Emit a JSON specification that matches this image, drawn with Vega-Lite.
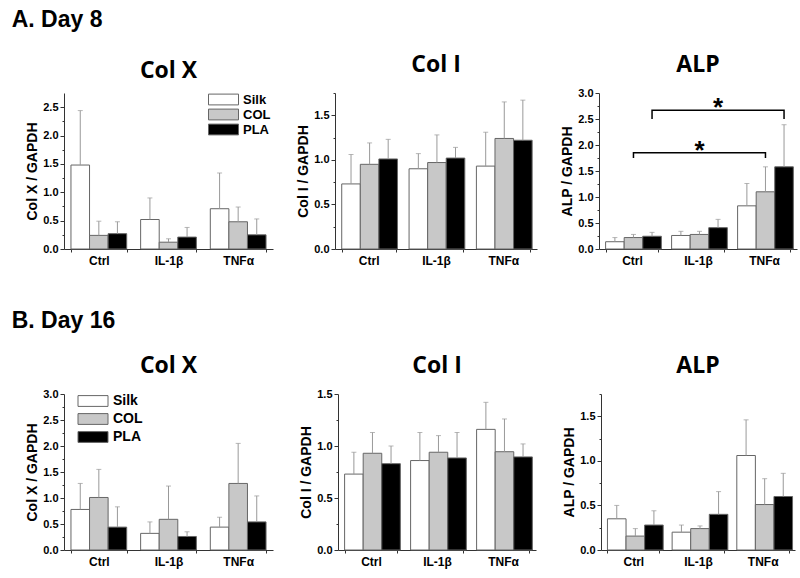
{
  "$schema": "https://vega.github.io/schema/vega-lite/v6.json",
  "padding": {"left": 11, "top": 9, "right": 2, "bottom": 2},
  "config": {
    "view": {"stroke": null},
    "font": "Liberation Sans",
    "axis": {"domainColor": "#333", "tickColor": "#333", "labelFontWeight": "bold", "titleFontWeight": "bold", "labelColor": "black", "titleColor": "black", "grid": false},
    "axisX": {"labelFontSize": 12, "tickSize": 3, "labelPadding": 3, "labelAngle": 0, "tickBand": "extent"},
    "axisY": {"labelFontSize": 11, "titleFontSize": 14, "titlePadding": 3, "labelPadding": 2, "tickSize": 4, "labelOverlap": false},
    "title": {"font": "Open Sans", "fontSize": 23, "fontWeight": "bold", "color": "black", "offset": 10},
    "legend": {"labelFont": "Liberation Sans", "labelFontWeight": "bold", "labelColor": "black"}
  },
  "datasets": {
    "bars": [
      {"day": "Day 8", "gene": "Col X", "treatment": "Ctrl", "scaffold": "Silk", "mean": 1.48, "upper": 2.44},
      {"day": "Day 8", "gene": "Col X", "treatment": "Ctrl", "scaffold": "COL", "mean": 0.24, "upper": 0.49},
      {"day": "Day 8", "gene": "Col X", "treatment": "Ctrl", "scaffold": "PLA", "mean": 0.27, "upper": 0.48},
      {"day": "Day 8", "gene": "Col X", "treatment": "IL-1β", "scaffold": "Silk", "mean": 0.52, "upper": 0.90},
      {"day": "Day 8", "gene": "Col X", "treatment": "IL-1β", "scaffold": "COL", "mean": 0.12, "upper": 0.18},
      {"day": "Day 8", "gene": "Col X", "treatment": "IL-1β", "scaffold": "PLA", "mean": 0.21, "upper": 0.38},
      {"day": "Day 8", "gene": "Col X", "treatment": "TNFα", "scaffold": "Silk", "mean": 0.71, "upper": 1.34},
      {"day": "Day 8", "gene": "Col X", "treatment": "TNFα", "scaffold": "COL", "mean": 0.48, "upper": 0.74},
      {"day": "Day 8", "gene": "Col X", "treatment": "TNFα", "scaffold": "PLA", "mean": 0.25, "upper": 0.53},
      {"day": "Day 8", "gene": "Col I", "treatment": "Ctrl", "scaffold": "Silk", "mean": 0.73, "upper": 1.06},
      {"day": "Day 8", "gene": "Col I", "treatment": "Ctrl", "scaffold": "COL", "mean": 0.95, "upper": 1.19},
      {"day": "Day 8", "gene": "Col I", "treatment": "Ctrl", "scaffold": "PLA", "mean": 1.01, "upper": 1.23},
      {"day": "Day 8", "gene": "Col I", "treatment": "IL-1β", "scaffold": "Silk", "mean": 0.90, "upper": 1.07},
      {"day": "Day 8", "gene": "Col I", "treatment": "IL-1β", "scaffold": "COL", "mean": 0.97, "upper": 1.28},
      {"day": "Day 8", "gene": "Col I", "treatment": "IL-1β", "scaffold": "PLA", "mean": 1.02, "upper": 1.14},
      {"day": "Day 8", "gene": "Col I", "treatment": "TNFα", "scaffold": "Silk", "mean": 0.93, "upper": 1.31},
      {"day": "Day 8", "gene": "Col I", "treatment": "TNFα", "scaffold": "COL", "mean": 1.24, "upper": 1.65},
      {"day": "Day 8", "gene": "Col I", "treatment": "TNFα", "scaffold": "PLA", "mean": 1.22, "upper": 1.67},
      {"day": "Day 8", "gene": "ALP", "treatment": "Ctrl", "scaffold": "Silk", "mean": 0.14, "upper": 0.22},
      {"day": "Day 8", "gene": "ALP", "treatment": "Ctrl", "scaffold": "COL", "mean": 0.22, "upper": 0.28},
      {"day": "Day 8", "gene": "ALP", "treatment": "Ctrl", "scaffold": "PLA", "mean": 0.245, "upper": 0.32},
      {"day": "Day 8", "gene": "ALP", "treatment": "IL-1β", "scaffold": "Silk", "mean": 0.26, "upper": 0.34},
      {"day": "Day 8", "gene": "ALP", "treatment": "IL-1β", "scaffold": "COL", "mean": 0.28, "upper": 0.34},
      {"day": "Day 8", "gene": "ALP", "treatment": "IL-1β", "scaffold": "PLA", "mean": 0.41, "upper": 0.57},
      {"day": "Day 8", "gene": "ALP", "treatment": "TNFα", "scaffold": "Silk", "mean": 0.83, "upper": 1.26},
      {"day": "Day 8", "gene": "ALP", "treatment": "TNFα", "scaffold": "COL", "mean": 1.10, "upper": 1.58},
      {"day": "Day 8", "gene": "ALP", "treatment": "TNFα", "scaffold": "PLA", "mean": 1.58, "upper": 2.39},
      {"day": "Day 16", "gene": "Col X", "treatment": "Ctrl", "scaffold": "Silk", "mean": 0.78, "upper": 1.28},
      {"day": "Day 16", "gene": "Col X", "treatment": "Ctrl", "scaffold": "COL", "mean": 1.01, "upper": 1.55},
      {"day": "Day 16", "gene": "Col X", "treatment": "Ctrl", "scaffold": "PLA", "mean": 0.44, "upper": 0.83},
      {"day": "Day 16", "gene": "Col X", "treatment": "IL-1β", "scaffold": "Silk", "mean": 0.32, "upper": 0.54},
      {"day": "Day 16", "gene": "Col X", "treatment": "IL-1β", "scaffold": "COL", "mean": 0.59, "upper": 1.23},
      {"day": "Day 16", "gene": "Col X", "treatment": "IL-1β", "scaffold": "PLA", "mean": 0.26, "upper": 0.35},
      {"day": "Day 16", "gene": "Col X", "treatment": "TNFα", "scaffold": "Silk", "mean": 0.44, "upper": 0.63},
      {"day": "Day 16", "gene": "Col X", "treatment": "TNFα", "scaffold": "COL", "mean": 1.28, "upper": 2.05},
      {"day": "Day 16", "gene": "Col X", "treatment": "TNFα", "scaffold": "PLA", "mean": 0.54, "upper": 1.04},
      {"day": "Day 16", "gene": "Col I", "treatment": "Ctrl", "scaffold": "Silk", "mean": 0.73, "upper": 0.94},
      {"day": "Day 16", "gene": "Col I", "treatment": "Ctrl", "scaffold": "COL", "mean": 0.93, "upper": 1.13},
      {"day": "Day 16", "gene": "Col I", "treatment": "Ctrl", "scaffold": "PLA", "mean": 0.83, "upper": 1.00},
      {"day": "Day 16", "gene": "Col I", "treatment": "IL-1β", "scaffold": "Silk", "mean": 0.86, "upper": 1.13},
      {"day": "Day 16", "gene": "Col I", "treatment": "IL-1β", "scaffold": "COL", "mean": 0.94, "upper": 1.10},
      {"day": "Day 16", "gene": "Col I", "treatment": "IL-1β", "scaffold": "PLA", "mean": 0.885, "upper": 1.13},
      {"day": "Day 16", "gene": "Col I", "treatment": "TNFα", "scaffold": "Silk", "mean": 1.16, "upper": 1.42},
      {"day": "Day 16", "gene": "Col I", "treatment": "TNFα", "scaffold": "COL", "mean": 0.945, "upper": 1.26},
      {"day": "Day 16", "gene": "Col I", "treatment": "TNFα", "scaffold": "PLA", "mean": 0.895, "upper": 1.02},
      {"day": "Day 16", "gene": "ALP", "treatment": "Ctrl", "scaffold": "Silk", "mean": 0.35, "upper": 0.50},
      {"day": "Day 16", "gene": "ALP", "treatment": "Ctrl", "scaffold": "COL", "mean": 0.156, "upper": 0.24},
      {"day": "Day 16", "gene": "ALP", "treatment": "Ctrl", "scaffold": "PLA", "mean": 0.28, "upper": 0.44},
      {"day": "Day 16", "gene": "ALP", "treatment": "IL-1β", "scaffold": "Silk", "mean": 0.20, "upper": 0.28},
      {"day": "Day 16", "gene": "ALP", "treatment": "IL-1β", "scaffold": "COL", "mean": 0.24, "upper": 0.27},
      {"day": "Day 16", "gene": "ALP", "treatment": "IL-1β", "scaffold": "PLA", "mean": 0.40, "upper": 0.655},
      {"day": "Day 16", "gene": "ALP", "treatment": "TNFα", "scaffold": "Silk", "mean": 1.06, "upper": 1.46},
      {"day": "Day 16", "gene": "ALP", "treatment": "TNFα", "scaffold": "COL", "mean": 0.51, "upper": 0.80},
      {"day": "Day 16", "gene": "ALP", "treatment": "TNFα", "scaffold": "PLA", "mean": 0.60, "upper": 0.86}
    ],
    "brackets": [
      {"id": "b1", "o": 1, "treatment": "Ctrl", "scaffold": "COL", "y": 1.75},
      {"id": "b1", "o": 2, "treatment": "Ctrl", "scaffold": "COL", "y": 1.85},
      {"id": "b1", "o": 3, "treatment": "TNFα", "scaffold": "COL", "y": 1.85},
      {"id": "b1", "o": 4, "treatment": "TNFα", "scaffold": "COL", "y": 1.75},
      {"id": "b2", "o": 1, "treatment": "Ctrl", "scaffold": "PLA", "y": 2.50},
      {"id": "b2", "o": 2, "treatment": "Ctrl", "scaffold": "PLA", "y": 2.67},
      {"id": "b2", "o": 3, "treatment": "TNFα", "scaffold": "PLA", "y": 2.67},
      {"id": "b2", "o": 4, "treatment": "TNFα", "scaffold": "PLA", "y": 2.50}
    ],
    "stars": [
      {"treatment": "IL-1β", "scaffold": "COL", "y": 1.73, "label": "*"},
      {"treatment": "IL-1β", "scaffold": "PLA", "y": 2.56, "label": "*"}
    ]
  },
  "spacing": 44,
  "resolve": {"legend": {"fill": "independent"}, "scale": {"fill": "independent"}},
  "vconcat": [
    {
      "title": {"text": "A. Day 8", "font": "Liberation Sans", "fontSize": 23, "anchor": "start", "dx": -14, "offset": 22},
      "spacing": 23,
      "resolve": {"legend": {"fill": "independent"}, "scale": {"x": "independent", "y": "independent"}},
      "hconcat": [
        {
          "width": 209, "height": 156,
          "title": "Col X",
          "data": {"name": "bars"},
          "transform": [{"filter": "datum.day == 'Day 8' && datum.gene == 'Col X'"}],
          "encoding": {
            "x": {"field": "treatment", "type": "nominal", "scale": {"domain": ["Ctrl", "IL-1β", "TNFα"], "paddingInner": 0.2, "paddingOuter": 0.1}, "axis": {"title": null}},
            "xOffset": {"field": "scaffold", "type": "nominal", "scale": {"domain": ["Silk", "COL", "PLA"], "paddingInner": 0, "paddingOuter": 0}}
          },
          "layer": [
            {"mark": {"type": "bar", "stroke": "#666", "strokeWidth": 1},
             "encoding": {
               "y": {"field": "mean", "type": "quantitative", "title": "Col X / GAPDH", "scale": {"domain": [0, 2.75]}, "axis": {"labelOverlap": false, "values": [0, 0.25, 0.5, 0.75, 1, 1.25, 1.5, 1.75, 2, 2.25, 2.5], "labelExpr": "(datum.value * 100) % 50 == 0 ? format(datum.value, '.1f') : ''", "tickSize": {"condition": {"test": "(datum.value * 100) % 50 == 0", "value": 4}, "value": 2}}},
               "fill": {"field": "scaffold", "type": "nominal", "scale": {"domain": ["Silk", "COL", "PLA"], "range": ["#ffffff", "#c8c8c8", "#000000"]},
                        "legend": {"title": null, "orient": "none", "legendX": 153, "legendY": 0, "symbolType": "M-2.5,-0.9H2.5V0.9H-2.5Z", "symbolSize": 144, "symbolStrokeColor": "#666", "symbolStrokeWidth": 1, "labelFontSize": 13, "rowPadding": 0, "labelOffset": 13, "padding": 0}}
             }},
            {"mark": {"type": "rule", "color": "#999", "strokeWidth": 1},
             "encoding": {"y": {"field": "mean", "type": "quantitative", "title": "Col X / GAPDH", "scale": {"domain": [0, 2.75]}, "axis": {"labelOverlap": false, "values": [0, 0.25, 0.5, 0.75, 1, 1.25, 1.5, 1.75, 2, 2.25, 2.5], "labelExpr": "(datum.value * 100) % 50 == 0 ? format(datum.value, '.1f') : ''", "tickSize": {"condition": {"test": "(datum.value * 100) % 50 == 0", "value": 4}, "value": 2}}}, "y2": {"field": "upper"}}},
            {"mark": {"type": "tick", "color": "#999", "thickness": 1, "size": 5},
             "encoding": {"y": {"field": "upper", "type": "quantitative", "title": "Col X / GAPDH", "scale": {"domain": [0, 2.75]}, "axis": {"labelOverlap": false, "values": [0, 0.25, 0.5, 0.75, 1, 1.25, 1.5, 1.75, 2, 2.25, 2.5], "labelExpr": "(datum.value * 100) % 50 == 0 ? format(datum.value, '.1f') : ''", "tickSize": {"condition": {"test": "(datum.value * 100) % 50 == 0", "value": 4}, "value": 2}}}}}
          ]
        },
        {
          "width": 202, "height": 156,
          "title": "Col I",
          "data": {"name": "bars"},
          "transform": [{"filter": "datum.day == 'Day 8' && datum.gene == 'Col I'"}],
          "encoding": {
            "x": {"field": "treatment", "type": "nominal", "scale": {"domain": ["Ctrl", "IL-1β", "TNFα"], "paddingInner": 0.2, "paddingOuter": 0.1}, "axis": {"title": null}},
            "xOffset": {"field": "scaffold", "type": "nominal", "scale": {"domain": ["Silk", "COL", "PLA"], "paddingInner": 0, "paddingOuter": 0}}
          },
          "layer": [
            {"mark": {"type": "bar", "stroke": "#666", "strokeWidth": 1},
             "encoding": {
               "y": {"field": "mean", "type": "quantitative", "title": "Col I / GAPDH", "scale": {"domain": [0, 1.75]}, "axis": {"labelOverlap": false, "values": [0, 0.25, 0.5, 0.75, 1, 1.25, 1.5, 1.75], "labelExpr": "(datum.value * 100) % 50 == 0 ? format(datum.value, '.1f') : ''", "tickSize": {"condition": {"test": "(datum.value * 100) % 50 == 0", "value": 4}, "value": 2}}},
               "fill": {"field": "scaffold", "type": "nominal", "scale": {"domain": ["Silk", "COL", "PLA"], "range": ["#ffffff", "#c8c8c8", "#000000"]}, "legend": null}
             }},
            {"mark": {"type": "rule", "color": "#999", "strokeWidth": 1},
             "encoding": {"y": {"field": "mean", "type": "quantitative", "title": "Col I / GAPDH", "scale": {"domain": [0, 1.75]}, "axis": {"labelOverlap": false, "values": [0, 0.25, 0.5, 0.75, 1, 1.25, 1.5, 1.75], "labelExpr": "(datum.value * 100) % 50 == 0 ? format(datum.value, '.1f') : ''", "tickSize": {"condition": {"test": "(datum.value * 100) % 50 == 0", "value": 4}, "value": 2}}}, "y2": {"field": "upper"}}},
            {"mark": {"type": "tick", "color": "#999", "thickness": 1, "size": 5},
             "encoding": {"y": {"field": "upper", "type": "quantitative", "title": "Col I / GAPDH", "scale": {"domain": [0, 1.75]}, "axis": {"labelOverlap": false, "values": [0, 0.25, 0.5, 0.75, 1, 1.25, 1.5, 1.75], "labelExpr": "(datum.value * 100) % 50 == 0 ? format(datum.value, '.1f') : ''", "tickSize": {"condition": {"test": "(datum.value * 100) % 50 == 0", "value": 4}, "value": 2}}}}}
          ]
        },
        {
          "width": 198, "height": 156,
          "title": "ALP",
          "data": {"name": "bars"},
          "transform": [{"filter": "datum.day == 'Day 8' && datum.gene == 'ALP'"}],
          "encoding": {
            "x": {"field": "treatment", "type": "nominal", "scale": {"domain": ["Ctrl", "IL-1β", "TNFα"], "paddingInner": 0.2, "paddingOuter": 0.1}, "axis": {"title": null}},
            "xOffset": {"field": "scaffold", "type": "nominal", "scale": {"domain": ["Silk", "COL", "PLA"], "paddingInner": 0, "paddingOuter": 0}}
          },
          "layer": [
            {"mark": {"type": "bar", "stroke": "#666", "strokeWidth": 1},
             "encoding": {
               "y": {"field": "mean", "type": "quantitative", "title": "ALP / GAPDH", "scale": {"domain": [0, 3]}, "axis": {"labelOverlap": false, "values": [0, 0.25, 0.5, 0.75, 1, 1.25, 1.5, 1.75, 2, 2.25, 2.5, 2.75, 3], "labelExpr": "(datum.value * 100) % 50 == 0 ? format(datum.value, '.1f') : ''", "tickSize": {"condition": {"test": "(datum.value * 100) % 50 == 0", "value": 4}, "value": 2}}},
               "fill": {"field": "scaffold", "type": "nominal", "scale": {"domain": ["Silk", "COL", "PLA"], "range": ["#ffffff", "#c8c8c8", "#000000"]}, "legend": null}
             }},
            {"mark": {"type": "rule", "color": "#999", "strokeWidth": 1},
             "encoding": {"y": {"field": "mean", "type": "quantitative", "title": "ALP / GAPDH", "scale": {"domain": [0, 3]}, "axis": {"labelOverlap": false, "values": [0, 0.25, 0.5, 0.75, 1, 1.25, 1.5, 1.75, 2, 2.25, 2.5, 2.75, 3], "labelExpr": "(datum.value * 100) % 50 == 0 ? format(datum.value, '.1f') : ''", "tickSize": {"condition": {"test": "(datum.value * 100) % 50 == 0", "value": 4}, "value": 2}}}, "y2": {"field": "upper"}}},
            {"mark": {"type": "tick", "color": "#999", "thickness": 1, "size": 5},
             "encoding": {"y": {"field": "upper", "type": "quantitative", "title": "ALP / GAPDH", "scale": {"domain": [0, 3]}, "axis": {"labelOverlap": false, "values": [0, 0.25, 0.5, 0.75, 1, 1.25, 1.5, 1.75, 2, 2.25, 2.5, 2.75, 3], "labelExpr": "(datum.value * 100) % 50 == 0 ? format(datum.value, '.1f') : ''", "tickSize": {"condition": {"test": "(datum.value * 100) % 50 == 0", "value": 4}, "value": 2}}}}},
            {"data": {"name": "brackets"},
             "mark": {"type": "line", "color": "black", "strokeWidth": 1.5},
             "encoding": {"y": {"field": "y", "type": "quantitative", "title": "ALP / GAPDH", "scale": {"domain": [0, 3]}, "axis": {"labelOverlap": false, "values": [0, 0.25, 0.5, 0.75, 1, 1.25, 1.5, 1.75, 2, 2.25, 2.5, 2.75, 3], "labelExpr": "(datum.value * 100) % 50 == 0 ? format(datum.value, '.1f') : ''", "tickSize": {"condition": {"test": "(datum.value * 100) % 50 == 0", "value": 4}, "value": 2}}}, "detail": {"field": "id"}, "order": {"field": "o"}}},
            {"data": {"name": "stars"},
             "mark": {"type": "text", "fontSize": 26, "fontWeight": "bold", "baseline": "alphabetic", "font": "Liberation Sans"},
             "encoding": {"y": {"field": "y", "type": "quantitative", "title": "ALP / GAPDH", "scale": {"domain": [0, 3]}, "axis": {"labelOverlap": false, "values": [0, 0.25, 0.5, 0.75, 1, 1.25, 1.5, 1.75, 2, 2.25, 2.5, 2.75, 3], "labelExpr": "(datum.value * 100) % 50 == 0 ? format(datum.value, '.1f') : ''", "tickSize": {"condition": {"test": "(datum.value * 100) % 50 == 0", "value": 4}, "value": 2}}}, "text": {"field": "label"}}}
          ]
        }
      ]
    },
    {
      "title": {"text": "B. Day 16", "font": "Liberation Sans", "fontSize": 23, "anchor": "start", "dx": -14, "offset": 22},
      "spacing": 26,
      "resolve": {"legend": {"fill": "independent"}, "scale": {"x": "independent", "y": "independent"}},
      "hconcat": [
        {
          "width": 209, "height": 156,
          "title": "Col X",
          "data": {"name": "bars"},
          "transform": [{"filter": "datum.day == 'Day 16' && datum.gene == 'Col X'"}],
          "encoding": {
            "x": {"field": "treatment", "type": "nominal", "scale": {"domain": ["Ctrl", "IL-1β", "TNFα"], "paddingInner": 0.2, "paddingOuter": 0.1}, "axis": {"title": null}},
            "xOffset": {"field": "scaffold", "type": "nominal", "scale": {"domain": ["Silk", "COL", "PLA"], "paddingInner": 0, "paddingOuter": 0}}
          },
          "layer": [
            {"mark": {"type": "bar", "stroke": "#666", "strokeWidth": 1},
             "encoding": {
               "y": {"field": "mean", "type": "quantitative", "title": "Col X / GAPDH", "scale": {"domain": [0, 3]}, "axis": {"labelOverlap": false, "values": [0, 0.25, 0.5, 0.75, 1, 1.25, 1.5, 1.75, 2, 2.25, 2.5, 2.75, 3], "labelExpr": "(datum.value * 100) % 50 == 0 ? format(datum.value, '.1f') : ''", "tickSize": {"condition": {"test": "(datum.value * 100) % 50 == 0", "value": 4}, "value": 2}}},
               "fill": {"field": "scaffold", "type": "nominal", "scale": {"domain": ["Silk", "COL", "PLA"], "range": ["#ffffff", "#c8c8c8", "#000000"]},
                        "legend": {"title": null, "orient": "none", "legendX": 22, "legendY": 0, "symbolType": "M-2.5,-0.9H2.5V0.9H-2.5Z", "symbolSize": 144, "symbolStrokeColor": "#666", "symbolStrokeWidth": 1, "labelFontSize": 14, "rowPadding": 2, "labelOffset": 13, "padding": 0}}
             }},
            {"mark": {"type": "rule", "color": "#999", "strokeWidth": 1},
             "encoding": {"y": {"field": "mean", "type": "quantitative", "title": "Col X / GAPDH", "scale": {"domain": [0, 3]}, "axis": {"labelOverlap": false, "values": [0, 0.25, 0.5, 0.75, 1, 1.25, 1.5, 1.75, 2, 2.25, 2.5, 2.75, 3], "labelExpr": "(datum.value * 100) % 50 == 0 ? format(datum.value, '.1f') : ''", "tickSize": {"condition": {"test": "(datum.value * 100) % 50 == 0", "value": 4}, "value": 2}}}, "y2": {"field": "upper"}}},
            {"mark": {"type": "tick", "color": "#999", "thickness": 1, "size": 5},
             "encoding": {"y": {"field": "upper", "type": "quantitative", "title": "Col X / GAPDH", "scale": {"domain": [0, 3]}, "axis": {"labelOverlap": false, "values": [0, 0.25, 0.5, 0.75, 1, 1.25, 1.5, 1.75, 2, 2.25, 2.5, 2.75, 3], "labelExpr": "(datum.value * 100) % 50 == 0 ? format(datum.value, '.1f') : ''", "tickSize": {"condition": {"test": "(datum.value * 100) % 50 == 0", "value": 4}, "value": 2}}}}}
          ]
        },
        {
          "width": 198, "height": 156,
          "title": "Col I",
          "data": {"name": "bars"},
          "transform": [{"filter": "datum.day == 'Day 16' && datum.gene == 'Col I'"}],
          "encoding": {
            "x": {"field": "treatment", "type": "nominal", "scale": {"domain": ["Ctrl", "IL-1β", "TNFα"], "paddingInner": 0.2, "paddingOuter": 0.1}, "axis": {"title": null}},
            "xOffset": {"field": "scaffold", "type": "nominal", "scale": {"domain": ["Silk", "COL", "PLA"], "paddingInner": 0, "paddingOuter": 0}}
          },
          "layer": [
            {"mark": {"type": "bar", "stroke": "#666", "strokeWidth": 1},
             "encoding": {
               "y": {"field": "mean", "type": "quantitative", "title": "Col I / GAPDH", "scale": {"domain": [0, 1.5]}, "axis": {"labelOverlap": false, "values": [0, 0.25, 0.5, 0.75, 1, 1.25, 1.5], "labelExpr": "(datum.value * 100) % 50 == 0 ? format(datum.value, '.1f') : ''", "tickSize": {"condition": {"test": "(datum.value * 100) % 50 == 0", "value": 4}, "value": 2}}},
               "fill": {"field": "scaffold", "type": "nominal", "scale": {"domain": ["Silk", "COL", "PLA"], "range": ["#ffffff", "#c8c8c8", "#000000"]}, "legend": null}
             }},
            {"mark": {"type": "rule", "color": "#999", "strokeWidth": 1},
             "encoding": {"y": {"field": "mean", "type": "quantitative", "title": "Col I / GAPDH", "scale": {"domain": [0, 1.5]}, "axis": {"labelOverlap": false, "values": [0, 0.25, 0.5, 0.75, 1, 1.25, 1.5], "labelExpr": "(datum.value * 100) % 50 == 0 ? format(datum.value, '.1f') : ''", "tickSize": {"condition": {"test": "(datum.value * 100) % 50 == 0", "value": 4}, "value": 2}}}, "y2": {"field": "upper"}}},
            {"mark": {"type": "tick", "color": "#999", "thickness": 1, "size": 5},
             "encoding": {"y": {"field": "upper", "type": "quantitative", "title": "Col I / GAPDH", "scale": {"domain": [0, 1.5]}, "axis": {"labelOverlap": false, "values": [0, 0.25, 0.5, 0.75, 1, 1.25, 1.5], "labelExpr": "(datum.value * 100) % 50 == 0 ? format(datum.value, '.1f') : ''", "tickSize": {"condition": {"test": "(datum.value * 100) % 50 == 0", "value": 4}, "value": 2}}}}}
          ]
        },
        {
          "width": 194, "height": 156,
          "title": "ALP",
          "data": {"name": "bars"},
          "transform": [{"filter": "datum.day == 'Day 16' && datum.gene == 'ALP'"}],
          "encoding": {
            "x": {"field": "treatment", "type": "nominal", "scale": {"domain": ["Ctrl", "IL-1β", "TNFα"], "paddingInner": 0.2, "paddingOuter": 0.1}, "axis": {"title": null}},
            "xOffset": {"field": "scaffold", "type": "nominal", "scale": {"domain": ["Silk", "COL", "PLA"], "paddingInner": 0, "paddingOuter": 0}}
          },
          "layer": [
            {"mark": {"type": "bar", "stroke": "#666", "strokeWidth": 1},
             "encoding": {
               "y": {"field": "mean", "type": "quantitative", "title": "ALP / GAPDH", "scale": {"domain": [0, 1.75]}, "axis": {"labelOverlap": false, "values": [0, 0.25, 0.5, 0.75, 1, 1.25, 1.5, 1.75], "labelExpr": "(datum.value * 100) % 50 == 0 ? format(datum.value, '.1f') : ''", "tickSize": {"condition": {"test": "(datum.value * 100) % 50 == 0", "value": 4}, "value": 2}}},
               "fill": {"field": "scaffold", "type": "nominal", "scale": {"domain": ["Silk", "COL", "PLA"], "range": ["#ffffff", "#c8c8c8", "#000000"]}, "legend": null}
             }},
            {"mark": {"type": "rule", "color": "#999", "strokeWidth": 1},
             "encoding": {"y": {"field": "mean", "type": "quantitative", "title": "ALP / GAPDH", "scale": {"domain": [0, 1.75]}, "axis": {"labelOverlap": false, "values": [0, 0.25, 0.5, 0.75, 1, 1.25, 1.5, 1.75], "labelExpr": "(datum.value * 100) % 50 == 0 ? format(datum.value, '.1f') : ''", "tickSize": {"condition": {"test": "(datum.value * 100) % 50 == 0", "value": 4}, "value": 2}}}, "y2": {"field": "upper"}}},
            {"mark": {"type": "tick", "color": "#999", "thickness": 1, "size": 5},
             "encoding": {"y": {"field": "upper", "type": "quantitative", "title": "ALP / GAPDH", "scale": {"domain": [0, 1.75]}, "axis": {"labelOverlap": false, "values": [0, 0.25, 0.5, 0.75, 1, 1.25, 1.5, 1.75], "labelExpr": "(datum.value * 100) % 50 == 0 ? format(datum.value, '.1f') : ''", "tickSize": {"condition": {"test": "(datum.value * 100) % 50 == 0", "value": 4}, "value": 2}}}}}
          ]
        }
      ]
    }
  ]
}
